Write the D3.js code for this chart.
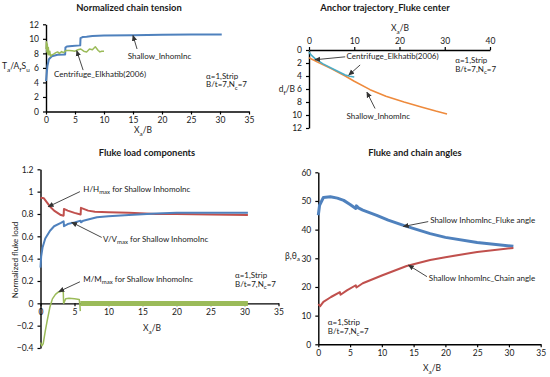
<!DOCTYPE html>
<html>
<head>
<meta charset="utf-8">
<script src="https://cdn.jsdelivr.net/npm/d3@7"></script>
<style>
  body { margin: 0; background: #fff; }
  text { font-family: Lato, "Open Sans", sans-serif; fill: #1a1a1a; }
</style>
</head>
<body>
<svg id="chart" width="550" height="377"></svg>
<script>
// ---- data ----
// Panel 1: normalized chain tension
const tensionShallowX = [0, 0.1, 0.25, 0.5, 1, 2, 3.3, 3.35, 3.6, 4.5, 5.9, 5.95, 6.3, 7, 8, 10, 15, 20, 25, 30.3];
const tensionShallowY = [4.2, 5.0, 6.3, 7.2, 7.6, 7.8, 7.85, 8.8, 8.95, 9.0, 9.1, 10.1, 10.25, 10.3, 10.4, 10.45, 10.5, 10.55, 10.58, 10.6];
const tensionCentX = [0, 0.08, 0.15, 0.22, 0.3, 0.4, 0.5, 0.65, 0.8, 1.0, 1.3, 1.7, 2.0, 2.3, 2.7, 3.0, 3.5, 4.0, 4.5, 5.0, 5.5, 6.0, 6.5, 7.0, 7.5, 8.0, 8.5, 9.0, 9.3, 9.6, 10.0];
const tensionCentY = [8.6, 9.6, 8.2, 9.3, 7.9, 8.8, 7.8, 8.3, 7.6, 7.8, 7.9, 8.1, 8.2, 8.0, 8.25, 8.1, 8.4, 8.4, 8.35, 8.3, 8.5, 8.6, 8.3, 8.2, 8.6, 8.5, 8.9, 8.4, 8.2, 8.3, 8.3];

// Panel 2: anchor trajectory
const trajShallowX = [0, 2, 5, 8, 10, 13.5, 17, 21, 25, 28, 30.5];
const trajShallowD = [1.2, 1.9, 2.9, 4.0, 4.8, 6.1, 7.1, 8.0, 8.8, 9.4, 9.85];
const trajCentX = [0, 0.5, 1.3, 3, 5, 7, 8, 9, 10];
const trajCentD = [0.3, 0.8, 1.3, 2.1, 2.8, 3.5, 3.85, 4.05, 4.15];

// Panel 3: fluke load components
const loadHX = [0, 0.5, 1, 1.5, 2, 2.5, 3, 3.4, 3.45, 4, 5, 5.9, 5.95, 7, 8, 10, 13, 17, 20, 25, 30.5];
const loadHY = [0.945, 0.94, 0.9, 0.86, 0.83, 0.81, 0.79, 0.785, 0.845, 0.83, 0.81, 0.795, 0.855, 0.83, 0.82, 0.815, 0.81, 0.8, 0.8, 0.795, 0.79];
const loadVX = [0, 0.1, 0.3, 0.7, 1.4, 2, 3, 3.4, 3.45, 4, 5, 5.9, 5.95, 6.3, 7, 8.3, 10, 13, 17, 20, 25, 30.5];
const loadVY = [0.32, 0.42, 0.5, 0.58, 0.65, 0.69, 0.72, 0.735, 0.69, 0.71, 0.725, 0.74, 0.725, 0.74, 0.75, 0.77, 0.78, 0.79, 0.805, 0.81, 0.81, 0.81];
const loadMX = [0, 0.2, 0.4, 0.7, 1, 1.4, 1.75, 2.2, 2.6, 3.2, 3.35, 3.4, 3.7, 4.2, 5, 5.7, 5.8, 5.85];
const loadMY = [-0.35, -0.38, -0.36, -0.25, -0.15, -0.03, 0.04, 0.08, 0.1, 0.11, 0.1, 0.0, 0.04, 0.045, 0.04, 0.035, -0.02, -0.07];
const loadMBandX = [5.85, 30.5];
const loadMBandLo = [-0.025, -0.025];
const loadMBandHi = [0.02, 0.02];

// Panel 4: fluke and chain angles
const flukeAngleX = [0, 0.2, 0.8, 1.9, 3, 4, 5, 5.9, 6.0, 6.3, 7, 9.2, 11, 13.4, 17.6, 20, 25, 30.7];
const flukeAngleY = [45, 48.5, 51.2, 51.5, 51, 50.2, 48.8, 47.4, 48.3, 47.6, 46.8, 45, 43.3, 41.5, 38.6, 37.3, 35.5, 34.2];
const chainAngleX = [0, 0.3, 0.8, 2, 3.4, 3.5, 4.5, 5.9, 6.0, 7, 10, 13.9, 17.6, 20, 25, 30.7];
const chainAngleY = [14, 13.3, 14.8, 16.5, 18.2, 17.3, 18.8, 20.6, 19.8, 21.3, 24, 27.3, 29.4, 30.4, 32.2, 33.6];

// ticks
const ticks0to35 = [0, 5, 10, 15, 20, 25, 30, 35];
const ticks0to12 = [0, 2, 4, 6, 8, 10, 12];
const ticks0to40 = [0, 10, 20, 30, 40];
const ticksLoad = [-0.4, -0.2, 0, 0.2, 0.4, 0.6, 0.8, 1, 1.2];
const ticksAngle = [0, 10, 20, 30, 40, 50, 60];

const BLUE = "#4f81bd", RED = "#c0504d", GREEN = "#9bbb59", ORANGE = "#ee8a3c", CYAN = "#4bacc6";
const TITLE_SIZE = 9.4;

const svg = d3.select("#chart");

svg.append("defs").append("marker")
  .attr("id", "arrow")
  .attr("viewBox", "0 0 8 8")
  .attr("refX", 7).attr("refY", 4)
  .attr("markerWidth", 6).attr("markerHeight", 6)
  .attr("markerUnits", "userSpaceOnUse")
  .attr("orient", "auto")
  .append("path").attr("d", "M0,0.5 L8,4 L0,7.5 Z").attr("fill", "#333");

const fmtNum = (d) => (d < 0 ? "\u2212" + Math.abs(d) : String(d));

// text with sub-scripts: parts = [[text, isSub], ...]
function richText(g, x, y, parts, size, opts = {}) {
  const t = g.append("text")
    .attr("x", x).attr("y", y)
    .attr("font-size", size)
    .attr("dominant-baseline", "middle")
    .attr("text-anchor", opts.anchor || "start")
    .attr("font-weight", opts.weight || "normal");
  if (opts.rotate) t.attr("transform", `rotate(${opts.rotate},${x},${y})`);
  let sub = false;
  parts.forEach(([s, isSub]) => {
    const ts = t.append("tspan").text(s);
    if (isSub) ts.attr("font-size", size * 0.75);
    if (isSub && !sub) ts.attr("dy", size * 0.3);
    else if (!isSub && sub) ts.attr("dy", -size * 0.3);
    sub = isSub;
  });
  return t;
}

function styleAxis(a) {
  a.select(".domain").attr("stroke", "#000").attr("stroke-width", 1.4);
  a.selectAll(".tick line").attr("stroke", "#000").attr("stroke-width", 1.2);
  a.selectAll(".tick text").attr("font-size", 8.5).attr("font-family", "Lato, sans-serif").attr("fill", "#1a1a1a");
}

function drawLine(g, x, y, xs, ys, color, width) {
  const pts = xs.map((v, i) => [v, ys[i]]);
  g.append("path")
    .attr("d", d3.line().x((d) => x(d[0])).y((d) => y(d[1]))(pts))
    .attr("fill", "none")
    .attr("stroke", color)
    .attr("stroke-width", width)
    .attr("stroke-linejoin", "round");
}

function arrow(g, x, y, from, to) {
  g.append("line")
    .attr("x1", x(from[0])).attr("y1", y(from[1]))
    .attr("x2", x(to[0])).attr("y2", y(to[1]))
    .attr("stroke", "#333").attr("stroke-width", 0.9)
    .attr("marker-end", "url(#arrow)");
}

function caseNote(g, x, y, at, dy) {
  richText(g, x(at[0]), y(at[1]), [["\u03b1=1,Strip", false]], 8);
  richText(g, x(at[0]), y(at[1]) + dy, [["B/t=7,N", false], ["c", true], ["=7", false]], 8);
}

// ---- Panel 1: Normalized chain tension ----
{
  const g = svg.append("g");
  const x = d3.scaleLinear().domain([0, 35]).range([46, 249]);
  const y = d3.scaleLinear().domain([0, 12]).range([111.5, 24.3]);
  g.append("g").attr("transform", `translate(0,${y(0)})`)
    .call(d3.axisBottom(x).tickValues(ticks0to35).tickSize(3).tickSizeOuter(0).tickPadding(2).tickFormat(fmtNum))
    .call(styleAxis);
  g.append("g").attr("transform", `translate(${x(0)},0)`)
    .call(d3.axisLeft(y).tickValues(ticks0to12).tickSize(3).tickSizeOuter(0).tickPadding(4).tickFormat(fmtNum))
    .call(styleAxis);
  drawLine(g, x, y, tensionShallowX, tensionShallowY, BLUE, 2);
  drawLine(g, x, y, tensionCentX, tensionCentY, GREEN, 1.5);

  richText(g, 129, 9, [["Normalized chain tension", false]], TITLE_SIZE, { anchor: "middle", weight: "bold" });
  richText(g, 143, 131, [["X", false], ["a", true], ["/B", false]], 8.5, { anchor: "middle" });
  richText(g, 2, 67, [["T", false], ["a", true], ["/A", false], ["f", true], ["S", false], ["u", true]], 8.5);

  richText(g, x(14.1), y(7.5), [["Shallow_InhomInc", false]], 8);
  arrow(g, x, y, [15.7, 8.6], [15, 10.45]);
  richText(g, x(1.4), y(5.0), [["Centrifuge_Elkhatib(2006)", false]], 8);
  arrow(g, x, y, [6.4, 5.7], [5.3, 8.35]);
  caseNote(g, x, y, [27.6, 4.75], 8.5);
}

// ---- Panel 2: Anchor trajectory ----
{
  const g = svg.append("g");
  const x = d3.scaleLinear().domain([0, 40]).range([309, 490]);
  const y = d3.scaleLinear().domain([0, 12]).range([50, 128]);
  g.append("g").attr("transform", `translate(0,${y(0)})`)
    .call(d3.axisTop(x).tickValues(ticks0to40).tickSize(3).tickSizeOuter(0).tickPadding(3).tickFormat(fmtNum))
    .call(styleAxis);
  g.append("g").attr("transform", `translate(${x(0)},0)`)
    .call(d3.axisLeft(y).tickValues(ticks0to12).tickSize(3).tickSizeOuter(0).tickPadding(4).tickFormat(fmtNum))
    .call(styleAxis);
  drawLine(g, x, y, trajShallowX, trajShallowD, ORANGE, 1.6);
  drawLine(g, x, y, trajCentX, trajCentD, CYAN, 1.6);

  richText(g, 385, 9, [["Anchor trajectory_Fluke center", false]], TITLE_SIZE, { anchor: "middle", weight: "bold" });
  richText(g, 400, 29, [["X", false], ["a", true], ["/B", false]], 8.5, { anchor: "middle" });
  richText(g, 295, 90, [["d", false], ["f", true], ["/B", false]], 8.5, { anchor: "end" });

  richText(g, x(8.3), y(1.12), [["Centrifuge_Elkhatib(2006)", false]], 8);
  arrow(g, x, y, [8.0, 1.05], [1.3, 1.5]);
  arrow(g, x, y, [11.3, 2.3], [8.8, 3.85]);
  richText(g, x(8.3), y(10.35), [["Shallow_InhomInc", false]], 8);
  arrow(g, x, y, [14.6, 9.0], [12.8, 6.5]);
  caseNote(g, x, y, [32.3, 1.65], 9);
}

// ---- Panel 3: Fluke load components ----
{
  const g = svg.append("g");
  const x = d3.scaleLinear().domain([0, 35]).range([40.5, 278.5]);
  const y = d3.scaleLinear().domain([-0.4, 1.2]).range([348, 169.3]);
  g.append("g").attr("transform", `translate(0,${y(0)})`)
    .call(d3.axisBottom(x).tickValues(ticks0to35).tickSize(3).tickSizeOuter(0).tickPadding(3).tickFormat(fmtNum))
    .call(styleAxis);
  g.append("g").attr("transform", `translate(${x(0)},0)`)
    .call(d3.axisLeft(y).tickValues(ticksLoad).tickSize(3).tickSizeOuter(0).tickPadding(4).tickFormat(fmtNum))
    .call(styleAxis);

  const band = loadMBandX.map((v, i) => [v, loadMBandLo[i], loadMBandHi[i]]);
  g.append("path")
    .attr("d", d3.area().x((d) => x(d[0])).y0((d) => y(d[1])).y1((d) => y(d[2]))(band))
    .attr("fill", GREEN);
  drawLine(g, x, y, loadMX, loadMY, GREEN, 1.5);
  drawLine(g, x, y, loadHX, loadHY, RED, 2);
  drawLine(g, x, y, loadVX, loadVY, BLUE, 2);

  richText(g, 147, 154, [["Fluke load components", false]], TITLE_SIZE, { anchor: "middle", weight: "bold" });
  richText(g, 152, 329, [["X", false], ["a", true], ["/B", false]], 8.5, { anchor: "middle" });
  richText(g, 16, 260, [["Normalized fluke load", false]], 8, { anchor: "middle", rotate: -90 });

  richText(g, x(6.3), y(1.015), [["H/H", false], ["max", true], [" for Shallow InhomoInc", false]], 8);
  arrow(g, x, y, [5.8, 1.0], [1.15, 0.865]);
  richText(g, x(9.2), y(0.567), [["V/V", false], ["max", true], [" for Shallow InhomoInc", false]], 8);
  arrow(g, x, y, [9.0, 0.59], [4.6, 0.725]);
  richText(g, x(6.3), y(0.21), [["M/M", false], ["max", true], [" for Shallow InhomoInc", false]], 8);
  arrow(g, x, y, [5.8, 0.193], [2.7, 0.105]);
  caseNote(g, x, y, [28.6, 0.245], 9);
}

// ---- Panel 4: Fluke and chain angles ----
{
  const g = svg.append("g");
  const x = d3.scaleLinear().domain([0, 35]).range([318.3, 540.7]);
  const y = d3.scaleLinear().domain([0, 60]).range([344.3, 172.3]);
  g.append("g").attr("transform", `translate(0,${y(0)})`)
    .call(d3.axisBottom(x).tickValues(ticks0to35).tickSize(3).tickSizeOuter(0).tickPadding(3).tickFormat(fmtNum))
    .call(styleAxis);
  g.append("g").attr("transform", `translate(${x(0)},0)`)
    .call(d3.axisLeft(y).tickValues(ticksAngle).tickSize(3).tickSizeOuter(0).tickPadding(4).tickFormat(fmtNum))
    .call(styleAxis);
  drawLine(g, x, y, flukeAngleX, flukeAngleY, BLUE, 3);
  drawLine(g, x, y, chainAngleX, chainAngleY, RED, 2);

  richText(g, 415, 154, [["Fluke and chain angles", false]], TITLE_SIZE, { anchor: "middle", weight: "bold" });
  richText(g, 432, 369, [["X", false], ["a", true], ["/B", false]], 8.5, { anchor: "middle" });
  richText(g, 300, 256.5, [["\u03b2,\u03b8", false], ["a", true]], 8.5, { anchor: "end" });

  richText(g, x(17.6), y(43.1), [["Shallow InhomInc_Fluke angle", false]], 8);
  arrow(g, x, y, [17.3, 42.8], [13.4, 41.1]);
  richText(g, x(17.4), y(22.8), [["Shallow InhomInc_Chain angle", false]], 8);
  arrow(g, x, y, [17.1, 23.6], [14.2, 27.6]);
  caseNote(g, x, y, [1.5, 7.4], 9);
}
</script>
</body>
</html>
